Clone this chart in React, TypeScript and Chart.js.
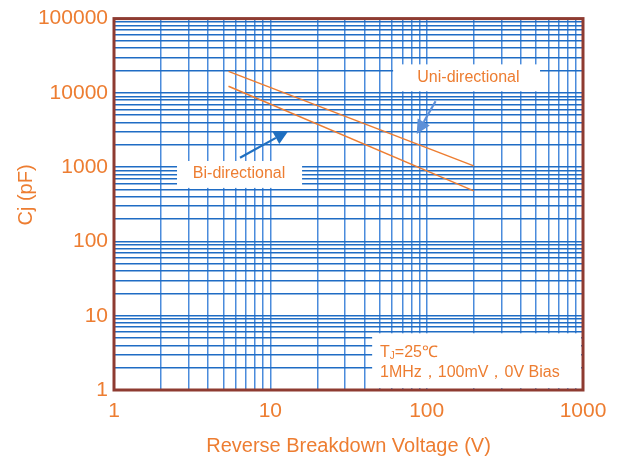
import React, { useEffect, useRef } from "react";
import { Chart, registerables } from "chart.js";

Chart.register(...registerables);

// ---- data ----
const xMajorTicks = [1, 10, 100, 1000];
const yMajorTicks = [1, 10, 100, 1000, 10000, 100000];
const uniVoltage = [5.4, 200];
const uniCap = [19500, 1040];
const biVoltage = [5.4, 200];
const biCap = [12300, 480];
const seriesNames = ["Uni-directional", "Bi-directional"];
const noteLine1 = "=25℃";
const noteLine2 = "1MHz，100mV，0V Bias";
const xTitle = "Reverse Breakdown Voltage (V)";
const yTitle = "Cj (pF)";

// annotation anchors in data coordinates
const uniBox = { x0: 61, x1: 531, y0: 24200, y1: 10500 };
const uniText = { x: 185, y: 15850 };
const biBox = { x0: 2.53, x1: 15.96, y0: 1211, y1: 526 };
const biText = { x: 6.31, y: 811 };
const noteBox = { x0: 44.8, x1: 972, y0: 5.8, y1: 1.06 };
const noteText1 = { x: 50.3, y: 3.23 };
const noteText2 = { x: 50.3, y: 1.69 };
const uniArrow = { x0: 114, y0: 7710, x1: 86.4, y1: 2786 };
const biArrow = { x0: 6.4, y0: 1341, x1: 13.0, y1: 3055 };

const ORANGE = "#ED7D31";
const BORDER = "#8E3B31";
const FONT = "'Liberation Sans', Arial, sans-serif";

function gridValues(majors: number[]) {
  const out: number[] = [];
  for (let i = 0; i < majors.length - 1; i++) {
    for (let m = 1; m < 10; m++) out.push(majors[i] * m);
  }
  out.push(majors[majors.length - 1]);
  return out;
}

function drawArrow(ctx: CanvasRenderingContext2D, x0: number, y0: number, x1: number, y1: number, color: string) {
  const ang = Math.atan2(y1 - y0, x1 - x0);
  const headLen = 14;
  const headW = 7;
  const bx = x1 - headLen * Math.cos(ang);
  const by = y1 - headLen * Math.sin(ang);
  ctx.save();
  ctx.strokeStyle = color;
  ctx.fillStyle = color;
  ctx.lineWidth = 2.2;
  ctx.beginPath();
  ctx.moveTo(x0, y0);
  ctx.lineTo(bx, by);
  ctx.stroke();
  ctx.beginPath();
  ctx.moveTo(x1, y1);
  ctx.lineTo(bx + headW * Math.sin(ang), by - headW * Math.cos(ang));
  ctx.lineTo(bx - headW * Math.sin(ang), by + headW * Math.cos(ang));
  ctx.closePath();
  ctx.fill();
  ctx.restore();
}

const annotationPlugin = {
  id: "annotations",
  beforeDatasetsDraw(chart: any) {
    const { ctx } = chart;
    const xs = chart.scales.x;
    const ys = chart.scales.y;
    const px = (v: number) => xs.getPixelForValue(v);
    const py = (v: number) => ys.getPixelForValue(v);
    const box = (b: any) => {
      ctx.fillStyle = "#ffffff";
      ctx.fillRect(px(b.x0), py(b.y0), px(b.x1) - px(b.x0), py(b.y1) - py(b.y0));
    };
    ctx.save();
    box(uniBox);
    box(biBox);
    box(noteBox);
    ctx.fillStyle = ORANGE;
    ctx.font = `16px ${FONT}`;
    ctx.textAlign = "center";
    ctx.textBaseline = "middle";
    ctx.fillText(seriesNames[0], px(uniText.x), py(uniText.y));
    ctx.fillText(seriesNames[1], px(biText.x), py(biText.y));

    ctx.textAlign = "left";
    const tx = px(noteText1.x);
    const ty = py(noteText1.y);
    ctx.font = `16px ${FONT}`;
    ctx.fillText("T", tx, ty);
    const tw = ctx.measureText("T").width;
    ctx.font = `10px ${FONT}`;
    ctx.fillText("J", tx + tw, ty + 4);
    const jw = ctx.measureText("J").width;
    ctx.font = `16px ${FONT}`;
    ctx.fillText(noteLine1, tx + tw + jw, ty);
    ctx.fillText(noteLine2, px(noteText2.x), py(noteText2.y));
    ctx.restore();

    drawArrow(ctx, px(uniArrow.x0), py(uniArrow.y0), px(uniArrow.x1), py(uniArrow.y1), "#5B8FD8");
    drawArrow(ctx, px(biArrow.x0), py(biArrow.y0), px(biArrow.x1), py(biArrow.y1), "#1F6FC0");
  },
  afterDraw(chart: any) {
    const { ctx, chartArea: a } = chart;
    ctx.save();
    ctx.strokeStyle = BORDER;
    ctx.lineWidth = 3;
    ctx.strokeRect(a.left, a.top, a.right - a.left, a.bottom - a.top);
    // y-axis title
    ctx.translate(26, 195);
    ctx.rotate(-Math.PI / 2);
    ctx.fillStyle = ORANGE;
    ctx.font = `20px ${FONT}`;
    ctx.textAlign = "center";
    ctx.textBaseline = "middle";
    ctx.fillText(yTitle, 0, 0);
    ctx.restore();
  },
};

export default function App() {
  const ref = useRef<HTMLCanvasElement | null>(null);
  useEffect(() => {
    document.body.style.margin = "0";
    const canvas = ref.current;
    if (!canvas) return;
    const xGrid = gridValues(xMajorTicks);
    const yGrid = gridValues(yMajorTicks);
    const chart = new Chart(canvas, {
      type: "line",
      data: {
        datasets: [
          {
            label: seriesNames[0],
            data: uniVoltage.map((v, i) => ({ x: v, y: uniCap[i] })),
            borderColor: ORANGE,
            borderWidth: 1.5,
            pointRadius: 0,
            fill: false,
          },
          {
            label: seriesNames[1],
            data: biVoltage.map((v, i) => ({ x: v, y: biCap[i] })),
            borderColor: ORANGE,
            borderWidth: 1.5,
            pointRadius: 0,
            fill: false,
          },
        ],
      },
      options: {
        responsive: false,
        animation: false,
        layout: { padding: { top: 17, right: 39, left: 0, bottom: 0 } },
        plugins: { legend: { display: false }, tooltip: { enabled: false } },
        scales: {
          x: {
            type: "logarithmic",
            min: 1,
            max: 1000,
            afterBuildTicks: (s: any) => {
              s.ticks = xGrid.map((v) => ({ value: v }));
            },
            afterFit: (s: any) => {
              s.height = 74;
            },
            ticks: {
              autoSkip: false,
              maxRotation: 0,
              minRotation: 0,
              padding: 9,
              color: ORANGE,
              font: { family: FONT, size: 21 },
              callback: (v: any) => (xMajorTicks.includes(Number(v)) ? String(v) : ""),
            },
            grid: { color: "#4A8BDC", lineWidth: 1.5, drawTicks: false },
            border: { display: false },
            title: {
              display: true,
              text: xTitle,
              color: ORANGE,
              font: { family: FONT, size: 20 },
              padding: { top: 0, bottom: 6 },
            },
          },
          y: {
            type: "logarithmic",
            min: 1,
            max: 100000,
            afterBuildTicks: (s: any) => {
              s.ticks = yGrid.map((v) => ({ value: v }));
            },
            afterFit: (s: any) => {
              s.width = 114;
            },
            ticks: {
              autoSkip: false,
              padding: 6,
              color: ORANGE,
              font: { family: FONT, size: 21 },
              callback: (v: any) => (yMajorTicks.includes(Number(v)) ? String(v) : ""),
            },
            grid: { color: "#1F6CC4", lineWidth: 1.5, drawTicks: false },
            border: { display: false },
            title: { display: false },
          },
        },
      },
      plugins: [annotationPlugin],
    } as any);
    return () => chart.destroy();
  }, []);
  return (
    <div style={{ width: 622, height: 464 }}>
      <canvas ref={ref} width={622} height={464} style={{ display: "block" }} />
    </div>
  );
}
